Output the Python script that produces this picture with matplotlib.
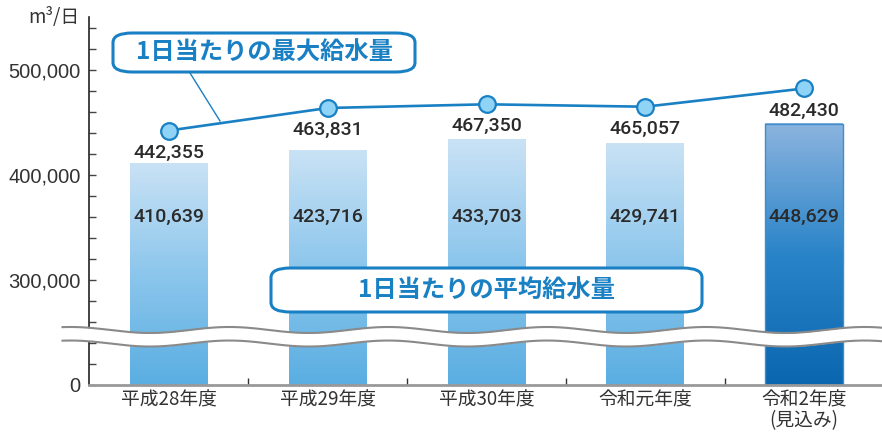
import numpy as np
import matplotlib
matplotlib.use("Agg")
import matplotlib.pyplot as plt
from matplotlib.colors import LinearSegmentedColormap
from matplotlib.patches import FancyBboxPatch, Rectangle

plt.rcParams['font.family'] = ['Noto Sans CJK JP', 'DejaVu Sans']
num_font = ['Liberation Sans', 'DejaVu Sans']
val_font = ['Roboto', 'DejaVu Sans']

# data
categories = ['平成28年度', '平成29年度', '平成30年度', '令和元年度', '令和2年度\n(見込み)']
avg_supply = [410639, 423716, 433703, 429741, 448629]
max_supply = [442355, 463831, 467350, 465057, 482430]
ytick_vals = [200000, 300000, 400000, 500000]
ytick_labels = ['0', '300,000', '400,000', '500,000']

W, H = 882, 433
fig = plt.figure(figsize=(W / 100, H / 100), dpi=100)
ax = fig.add_axes([89 / W, 1 - 385 / H, 1 - 89 / W, (385 - 17) / H])

y0 = 200000
ytop = 550500
x = np.arange(len(categories))
bw = 0.49

light = LinearSegmentedColormap.from_list('light', ['#5aaee2', '#8cc6ec', '#c9e2f5'])
dark = LinearSegmentedColormap.from_list('dark', ['#0a66af', '#2a84c8', '#8cb4df'])
grad = np.linspace(0, 1, 256).reshape(-1, 1)

for i, v in enumerate(avg_supply):
    cm = dark if i == len(avg_supply) - 1 else light
    ax.imshow(grad, extent=[x[i] - bw / 2, x[i] + bw / 2, y0, v], origin='lower',
              cmap=cm, aspect='auto', zorder=1)
    if i == len(avg_supply) - 1:
        ax.add_patch(Rectangle((x[i] - bw / 2, y0), bw, v - y0, fill=False,
                               edgecolor='#3d8ecb', lw=1, zorder=2))
    ax.text(x[i], 360000, f'{v:,}', ha='center', va='center', fontsize=14,
            family=val_font, fontweight='medium', color='#2a2a2a', zorder=3)

# max line
ax.plot(x, max_supply, color='#1a80c4', lw=1.9, marker='o', ms=12,
        mfc='#8fd4f6', mec='#1a80c4', mew=1.6, zorder=4)
for i, v in enumerate(max_supply):
    ax.annotate(f'{v:,}', (x[i], v), xytext=(0, -22), textcoords='offset pixels',
                ha='center', va='center', fontsize=14, family=val_font,
                fontweight='medium', color='#2a2a2a', zorder=4)

ax.set_xlim(-0.503, 4.49)
ax.set_ylim(y0, ytop)

ax.spines['top'].set_visible(False)
ax.spines['right'].set_visible(False)
ax.spines['left'].set_color('#222222')
ax.spines['left'].set_linewidth(1.2)
ax.spines['bottom'].set_color('#999999')
ax.spines['bottom'].set_linewidth(2)

ax.set_yticks(ytick_vals)
ax.set_yticklabels(ytick_labels, fontsize=14.5, family=num_font, color='#333333')
ax.set_yticks(np.arange(220000, 550000, 20000), minor=True)
ax.tick_params(axis='y', which='both', direction='in', length=5, width=1,
               color='#444444', pad=6)

ax.set_xticks(x)
ax.set_xticklabels(categories, fontsize=13.5, color='#333333', linespacing=1.0)
ax.tick_params(axis='x', which='major', length=0, pad=3)
ax.set_xticks(x[:-1] + 0.5, minor=True)
ax.tick_params(axis='x', which='minor', direction='in', length=5, width=1, color='#333333')

# wavy break
wx = np.linspace(-0.67, 4.6, 600)
wave = 2860 * np.cos(2 * np.pi * (wx - (150 - 169) / 158.9))
top_line = 252400 - wave
bot_line = 239500 - wave
ax.fill_between(wx, bot_line, top_line, color='white', zorder=6, clip_on=False, lw=0)
ax.plot(wx, top_line, color='#8a8a8a', lw=1.5, zorder=7, clip_on=False)
ax.plot(wx, bot_line, color='#8a8a8a', lw=1.5, zorder=7, clip_on=False)

# unit label
fig.text(28 / W, 1 - 17 / H, 'm³/日', fontsize=13.5, color='#333333', ha='left', va='center')

# callout boxes
def callout(x0, y0p, x1, y1p, label, fs):
    box = FancyBboxPatch((x0 / W, 1 - y1p / H), (x1 - x0) / W, (y1p - y0p) / H,
                         boxstyle='round,pad=0,rounding_size=0.022',
                         transform=fig.transFigure, facecolor='white',
                         edgecolor='#1a80c4', lw=2.2, zorder=8)
    fig.patches.append(box)
    fig.text((x0 + x1) / 2 / W, 1 - (y0p + y1p) / 2 / H, label, fontsize=fs,
             fontweight='bold', color='#1a80c4', ha='center', va='center', zorder=9)

fig.lines.append(plt.Line2D([190 / W, 220 / W], [1 - 73 / H, 1 - 121 / H],
                            transform=fig.transFigure, color='#1a80c4', lw=1))
callout(113, 33, 415, 72, '1日当たりの最大給水量', 17.5)
callout(271, 268, 702, 312, '1日当たりの平均給水量', 17.5)

fig.savefig('out.png', dpi=100)
